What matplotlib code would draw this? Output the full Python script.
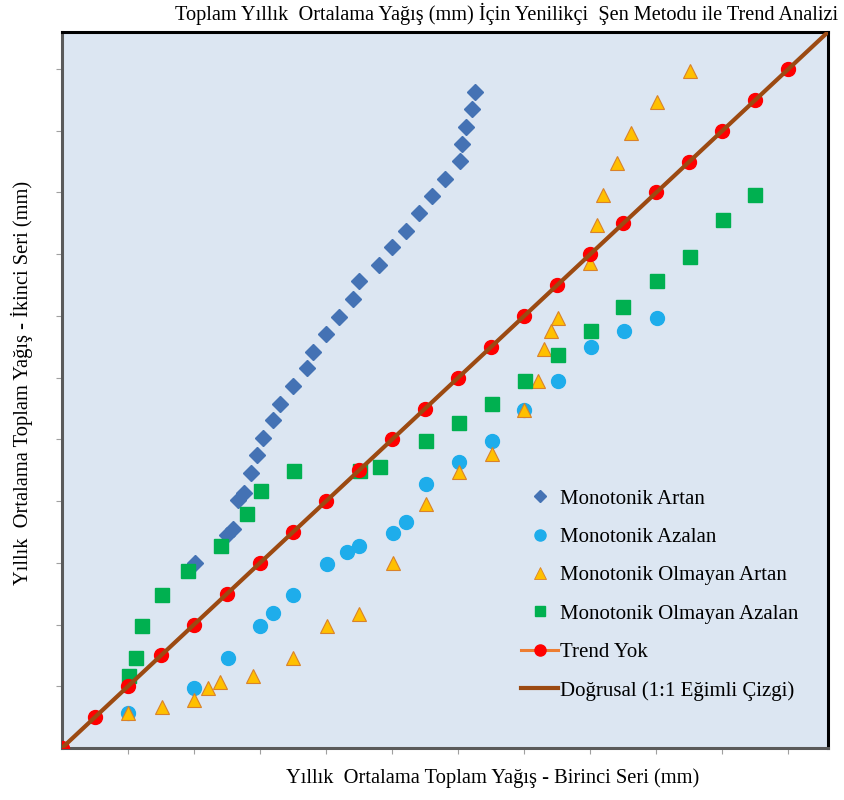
import matplotlib
matplotlib.use("Agg")
import matplotlib.pyplot as plt
from matplotlib.lines import Line2D
import numpy as np

plt.rcParams['font.family'] = ['Liberation Serif', 'DejaVu Serif']

# 1:1 reference series (no trend)
trend_x = [0, 50, 100, 150, 200, 250, 300, 350, 400, 450, 500, 550,
           600, 650, 700, 750, 800, 850, 900, 950, 1000, 1050, 1100]
trend_y = [0, 50, 100, 150, 200, 250, 300, 350, 400, 450, 500, 550,
           600, 650, 700, 750, 800, 850, 900, 950, 1000, 1050, 1100]

# Monotonik Artan
artan_x = [201, 250, 259, 267, 276, 286, 295, 305, 320, 330, 350, 371, 380, 400,
           420, 441, 450, 480, 500, 521, 541, 561, 580, 602, 606, 612, 621, 626]
artan_y = [299, 345, 354, 401, 413, 445, 474, 503, 531, 558, 586, 615, 642, 670,
           699, 727, 756, 783, 811, 838, 866, 895, 922, 951, 979, 1006, 1036, 1063]

# Monotonik Azalan
azalan_x = [100, 200, 251, 300, 320, 350, 401, 432, 450, 501, 521, 551, 601, 651,
            700, 751, 801, 851, 901]
azalan_y = [57, 97, 146, 197, 218, 248, 298, 317, 327, 348, 366, 427, 463, 497,
            548, 595, 650, 676, 697]

# Monotonik Olmayan Artan
olm_artan_x = [100, 151, 200, 221, 239, 289, 350, 401, 450, 501, 551, 601, 651,
               700, 721, 730, 741, 751, 800, 810, 820, 841, 861, 901, 951]
olm_artan_y = [57, 66, 78, 97, 107, 116, 146, 197, 217, 299, 396, 447, 477,
               548, 595, 646, 675, 697, 786, 848, 896, 947, 997, 1047, 1097]

# Monotonik Olmayan Azalan
olm_azalan_x = [101, 112, 121, 151, 191, 241, 280, 301, 351, 451, 482, 551, 601,
                651, 701, 751, 801, 850, 901, 951, 1001, 1050]
olm_azalan_y = [116, 146, 197, 248, 286, 327, 379, 417, 448, 448, 456, 497, 527,
                558, 595, 636, 676, 715, 756, 796, 856, 896]

axis_max = 1160
tick_vals = [100, 200, 300, 400, 500, 600, 700, 800, 900, 1000, 1100]

title = "Toplam Yıllık  Ortalama Yağış (mm) İçin Yenilikçi  Şen Metodu ile Trend Analizi"
xlabel = "Yıllık  Ortalama Toplam Yağış - Birinci Seri (mm)"
ylabel = "Yıllık  Ortalama Toplam Yağış - İkinci Seri (mm)"
legend_labels = ["Monotonik Artan", "Monotonik Azalan", "Monotonik Olmayan Artan",
                 "Monotonik Olmayan Azalan", "Trend Yok", "Doğrusal (1:1 Eğimli Çizgi)"]

c_artan = "#4472B4"
c_azalan = "#1EADEB"
c_tri = "#FFC000"
c_tri_edge = "#D9822B"
c_sq = "#00B050"
c_red = "#FF0000"
c_orange = "#ED7D31"
c_brown = "#9C4A12"

fig = plt.figure(figsize=(8.44, 8.0), dpi=100)
ax = fig.add_axes([62 / 844, 52 / 800, 766 / 844, 716 / 800])
ax.set_facecolor("#DCE6F2")

ax.plot(artan_x, artan_y, linestyle="none", marker="D", ms=8.6,
        color=c_artan, mec=c_artan, zorder=3)
ax.plot(azalan_x, azalan_y, linestyle="none", marker="o", ms=10,
        color=c_azalan, mec=c_azalan, zorder=3)
ax.plot(olm_artan_x, olm_artan_y, linestyle="none", marker="^", ms=10,
        color=c_tri, mec=c_tri_edge, mew=0.8, zorder=4)
ax.plot(olm_azalan_x, olm_azalan_y, linestyle="none", marker="s", ms=9.5,
        color=c_sq, mec=c_sq, zorder=4)
ax.plot(trend_x, trend_y, linestyle="-", color=c_orange, lw=2, marker="o", ms=10,
        mfc=c_red, mec=c_red, zorder=5)
ax.plot([0, axis_max], [0, axis_max], color=c_brown, lw=3, zorder=6,
        solid_capstyle="butt")

ax.set_xlim(0, axis_max)
ax.set_ylim(0, axis_max)
ax.set_xticks(tick_vals)
ax.set_yticks(tick_vals)
ax.set_xticklabels([])
ax.set_yticklabels([])
ax.tick_params(axis="both", direction="out", length=4, width=0.8, color="#A0A0A0")

for side in ("left", "bottom"):
    ax.spines[side].set_color("#5A5A5A")
    ax.spines[side].set_linewidth(2.2)
for side in ("top", "right"):
    ax.spines[side].set_color("#000000")
    ax.spines[side].set_linewidth(2.2)

handles = [
    Line2D([], [], linestyle="none", marker="D", ms=6.5, color=c_artan),
    Line2D([], [], linestyle="none", marker="o", ms=8, color=c_azalan),
    Line2D([], [], linestyle="none", marker="^", ms=8, color=c_tri, mec=c_tri_edge, mew=0.6),
    Line2D([], [], linestyle="none", marker="s", ms=7, color=c_sq),
    Line2D([], [], linestyle="-", color=c_orange, lw=2.2, marker="o", ms=8,
           mfc=c_red, mec=c_red),
    Line2D([], [], linestyle="-", color=c_brown, lw=3),
]
leg = ax.legend(handles, legend_labels, loc="lower left",
                bbox_to_anchor=(449 / 766, 37 / 716), frameon=False,
                fontsize=15, handlelength=1.75, handletextpad=0.1,
                labelspacing=0.9, borderpad=0)

fig.text(838 / 844, 1 - 14 / 800, title, ha="right", va="center", fontsize=14.6)
fig.text(493 / 844, 1 - 778 / 800, xlabel, ha="center", va="center", fontsize=14.8)
fig.text(22 / 844, 1 - 383 / 800, ylabel, ha="center", va="center", fontsize=14.8,
         rotation=90)

fig.savefig("out.png", dpi=100)
